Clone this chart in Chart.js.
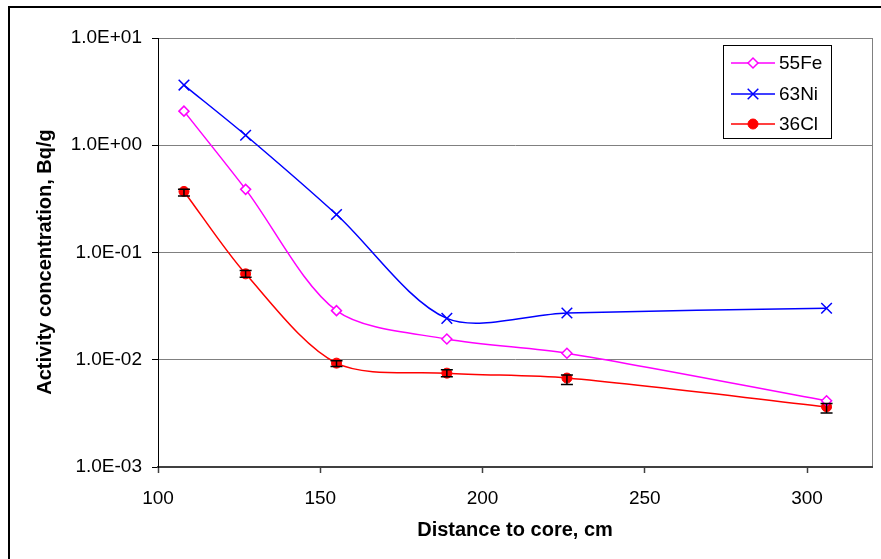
<!DOCTYPE html>
<html>
<head>
<meta charset="utf-8">
<script src="https://cdn.jsdelivr.net/npm/chart.js@4/dist/chart.umd.min.js"></script>
<style>
html,body{margin:0;padding:0;background:#fff;}
#wrap{position:relative;width:881px;height:559px;}
</style>
</head>
<body>
<div id="wrap"><canvas id="c" width="881" height="559"></canvas></div>
<script>
const distance = [108, 127, 155, 189, 226, 306];
const fe55 = [2.08, 0.388, 0.0287, 0.0156, 0.0115, 0.00414];
const ni63 = [3.64, 1.24, 0.226, 0.0243, 0.0273, 0.0302];
const cl36 = [0.371, 0.0632, 0.0093, 0.0075, 0.00675, 0.00364];
const cl36Low = [0.336, 0.0588, 0.00865, 0.00693, 0.00588, 0.00318];
const cl36High = [0.388, 0.0679, 0.0098, 0.00807, 0.00719, 0.00391];
const seriesNames = ['55Fe', '63Ni', '36Cl'];
const yTicks = [0.001, 0.01, 0.1, 1, 10];
const xTicks = [100, 150, 200, 250, 300];
const yTitle = 'Activity concentration, Bq/g';
const xTitle = 'Distance to core, cm';

const FONT = "'Liberation Sans', Arial, sans-serif";
const pts = arr => arr.map((v, i) => ({x: distance[i], y: v}));

function fmtE(v) {
  const e = Math.round(Math.log10(v));
  return '1.0E' + (e < 0 ? '-' : '+') + String(Math.abs(e)).padStart(2, '0');
}

const frame = {
  id: 'frame',
  beforeDraw(chart) {
    const ctx = chart.ctx;
    ctx.save();
    ctx.fillStyle = '#fff';
    ctx.fillRect(0, 0, chart.width, chart.height);
    ctx.strokeStyle = '#000';
    ctx.lineWidth = 2;
    ctx.strokeRect(9, 7, 1000, 700);
    const a = chart.chartArea;
    ctx.strokeStyle = '#808080';
    ctx.lineWidth = 1;
    ctx.beginPath();
    ctx.moveTo(Math.round(a.right) + 0.5, a.top);
    ctx.lineTo(Math.round(a.right) + 0.5, a.bottom);
    ctx.stroke();
    ctx.translate(45, 262);
    ctx.rotate(-Math.PI / 2);
    ctx.fillStyle = '#000';
    ctx.font = 'bold 20px ' + FONT;
    ctx.textAlign = 'center';
    ctx.textBaseline = 'middle';
    ctx.fillText(yTitle, 0, 0);
    ctx.restore();
  }
};

const errorBars = {
  id: 'errorBars',
  afterDatasetsDraw(chart) {
    const ctx = chart.ctx, xs = chart.scales.x, ys = chart.scales.y;
    ctx.save();
    ctx.strokeStyle = '#000';
    ctx.lineWidth = 1.5;
    distance.forEach((d, i) => {
      const px = xs.getPixelForValue(d);
      const y1 = ys.getPixelForValue(cl36High[i]);
      const y2 = ys.getPixelForValue(cl36Low[i]);
      ctx.beginPath();
      ctx.moveTo(px, y1); ctx.lineTo(px, y2);
      ctx.moveTo(px - 6, y1); ctx.lineTo(px + 6, y1);
      ctx.moveTo(px - 6, y2); ctx.lineTo(px + 6, y2);
      ctx.stroke();
    });
    ctx.restore();
  }
};

const legendBox = {
  id: 'legendBox',
  afterDraw(chart) {
    const ctx = chart.ctx;
    ctx.save();
    ctx.fillStyle = '#fff';
    ctx.fillRect(723.5, 45.5, 108, 93);
    ctx.strokeStyle = '#000';
    ctx.lineWidth = 1;
    ctx.strokeRect(723.5, 45.5, 108, 93);
    const rows = [63, 94, 124];
    chart.data.datasets.forEach((ds, i) => {
      const y = rows[i];
      ctx.strokeStyle = ds.borderColor;
      ctx.lineWidth = 1.5;
      ctx.beginPath();
      ctx.moveTo(731, y); ctx.lineTo(775, y);
      ctx.stroke();
      ctx.fillStyle = ds.pointBackgroundColor;
      ctx.strokeStyle = ds.pointBorderColor;
      ctx.lineWidth = ds.pointBorderWidth;
      Chart.helpers.drawPoint(ctx, {pointStyle: ds.pointStyle, radius: ds.pointRadius, borderWidth: ds.pointBorderWidth, rotation: 0}, 753, y);
      ctx.fillStyle = '#000';
      ctx.font = '19px ' + FONT;
      ctx.textBaseline = 'middle';
      ctx.textAlign = 'left';
      ctx.fillText(ds.label, 779, y + 1);
    });
    ctx.restore();
  }
};

new Chart(document.getElementById('c'), {
  type: 'line',
  data: {
    datasets: [
      {label: seriesNames[0], data: pts(fe55), borderColor: '#FF00FF', borderWidth: 1.5,
       pointStyle: 'rectRot', pointRadius: 5, pointBorderWidth: 1.5,
       pointBackgroundColor: '#fff', pointBorderColor: '#FF00FF', tension: 0.3},
      {label: seriesNames[1], data: pts(ni63), borderColor: '#0000FF', borderWidth: 1.5,
       pointStyle: 'crossRot', pointRadius: 7.5, pointBorderWidth: 1.5,
       pointBackgroundColor: '#0000FF', pointBorderColor: '#0000FF', tension: 0.3},
      {label: seriesNames[2], data: pts(cl36), borderColor: '#FF0000', borderWidth: 1.5,
       pointStyle: 'circle', pointRadius: 5, pointBorderWidth: 1,
       pointBackgroundColor: '#FF0000', pointBorderColor: '#FF0000', tension: 0.3}
    ]
  },
  options: {
    responsive: false,
    animation: false,
    layout: {padding: {top: 38, right: 5, bottom: 0, left: 0}},
    plugins: {legend: {display: false}, tooltip: {enabled: false}},
    scales: {
      x: {
        type: 'linear', min: 100, max: 320,
        afterBuildTicks: s => { s.ticks = xTicks.map(v => ({value: v})); },
        afterFit: s => { s.height = 92; },
        grid: {drawOnChartArea: false, drawTicks: true, tickLength: 6, tickColor: '#404040', tickWidth: 1.5},
        border: {display: true, color: '#404040', width: 2},
        ticks: {padding: 14, color: '#000', font: {family: FONT, size: 19}, maxRotation: 0},
        title: {display: true, text: xTitle, color: '#000',
                font: {family: FONT, size: 20, weight: 'bold'}, padding: {top: 0, bottom: 17}}
      },
      y: {
        type: 'logarithmic', min: 0.001, max: 10,
        afterBuildTicks: s => { s.ticks = yTicks.map(v => ({value: v})); },
        afterFit: s => { s.width = 158; },
        grid: {drawOnChartArea: true, color: '#808080', lineWidth: 1, drawTicks: true, tickLength: 6, tickColor: '#000'},
        border: {display: true, color: '#000', width: 1},
        ticks: {padding: 10, color: '#000', font: {family: FONT, size: 19}, callback: v => fmtE(v)},
        title: {display: false}
      }
    }
  },
  plugins: [frame, errorBars, legendBox]
});
</script>
</body>
</html>
